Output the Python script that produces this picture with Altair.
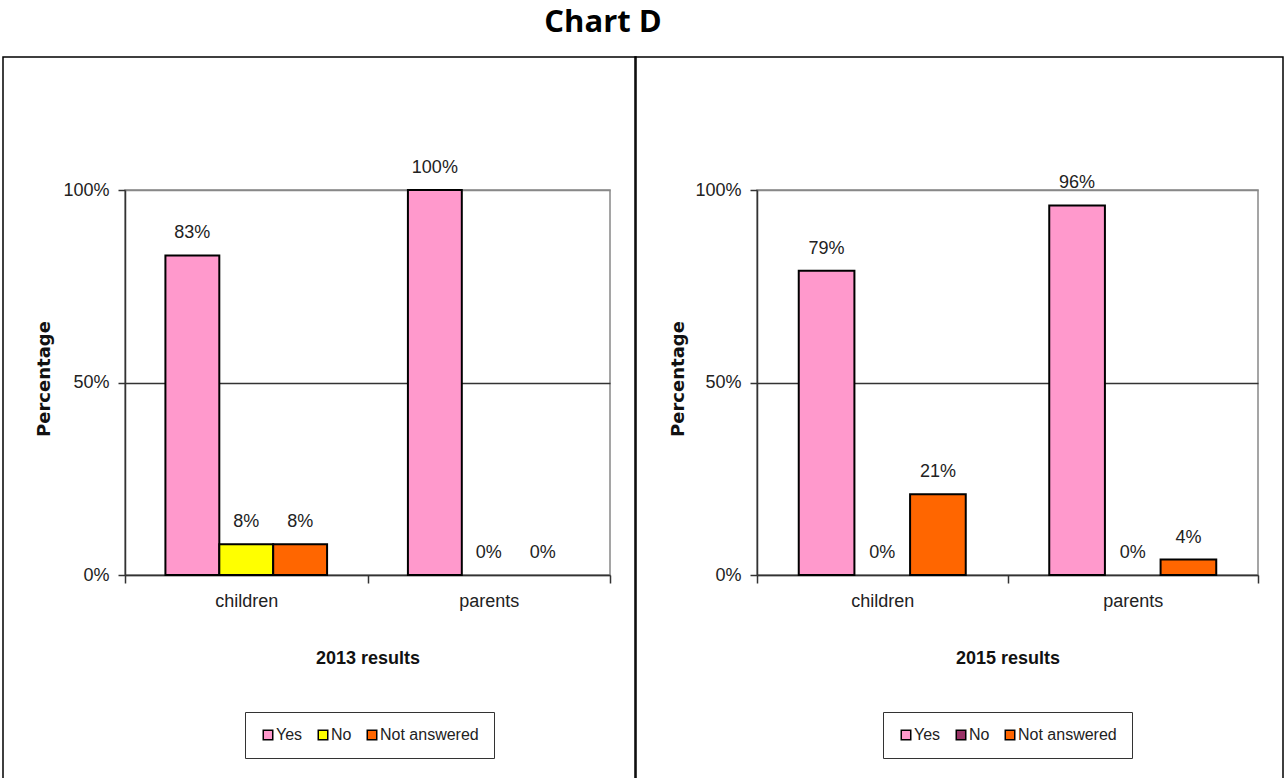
import altair as alt
import pandas as pd

groups = ["children", "parents"]
answers = ["Yes", "No", "Not answered"]
values_2013 = [[0.83, 0.08, 0.08], [1.00, 0.00, 0.00]]
values_2015 = [[0.79, 0.00, 0.21], [0.96, 0.00, 0.04]]
colors_2013 = ["#FF99CC", "#FFFF00", "#FF6600"]
colors_2015 = ["#FF99CC", "#993366", "#FF6600"]
y_ticks = [0, 0.5, 1.0]

FONT = "Liberation Sans, Arial, sans-serif"


def frame(values):
    rows = []
    for g, vals in zip(groups, values):
        for a, v in zip(answers, vals):
            rows.append({"group": g, "answer": a, "value": v})
    return pd.DataFrame(rows)


def panel(values, colors, xtitle, plot_w, plot_h, box_l, box_r, box_t, box_b,
          ytitle_x, legend_x, legend_y):
    df = frame(values)
    x = alt.X(
        "group:N", sort=groups,
        scale=alt.Scale(paddingInner=0, paddingOuter=0),
        axis=alt.Axis(
            title=xtitle, labelAngle=0, tickBand="extent", tickSize=8,
            tickColor="#333", tickWidth=1.5, domainColor="#333", domainWidth=1.5,
            labelFont=FONT, labelFontSize=18, labelColor="#222", labelPadding=9,
            titleFont=FONT, titleFontSize=18, titleFontWeight="bold",
            titleColor="#111", titleY=83, titleBaseline="middle",
        ),
    )
    xo = alt.XOffset("answer:N", sort=answers,
                     scale=alt.Scale(domain=answers, paddingOuter=0.75, paddingInner=0))
    y = alt.Y(
        "value:Q",
        scale=alt.Scale(domain=[0, 1], nice=False),
        axis=alt.Axis(
            values=y_ticks, format="%", title="Percentage",
            titleFont="DejaVu Sans", titleFontSize=18, titleFontWeight="bold",
            titleColor="#111", titleX=ytitle_x, titleY=plot_h / 2 - 4,
            titleBaseline="middle", titleAlign="center",
            labelFont=FONT, labelFontSize=18, labelColor="#222", labelPadding=9,
            tickSize=7, tickColor="#333", tickWidth=1.5,
            domainColor="#333", domainWidth=1.5,
            grid=True, gridWidth=1.5,
            gridColor={"condition": {"test": "datum.value === 0.5", "value": "#333"},
                       "value": "#888"},
        ),
    )
    bars = alt.Chart(df).mark_bar(stroke="black", opacity=1).encode(
        x=x, xOffset=xo, y=y,
        strokeWidth=alt.condition("datum.value > 0", alt.value(2), alt.value(0)),
        color=alt.Color(
            "answer:N", sort=answers,
            scale=alt.Scale(domain=answers, range=colors),
            legend=alt.Legend(
                orient="none", legendX=legend_x, legendY=legend_y,
                direction="horizontal", columns=3, title=None,
                symbolType="square", symbolSize=90, symbolStrokeColor="black",
                symbolStrokeWidth=1.5, symbolOpacity=1,
                labelFont=FONT, labelFontSize=16, labelColor="#222",
                labelOffset=0, columnPadding=12, padding=15,
                strokeColor="#333", fillColor="white",
            ),
        ),
    )
    labels = alt.Chart(df).mark_text(
        baseline="bottom", dy=-13, font=FONT, fontSize=18, color="#222"
    ).encode(
        x=x, xOffset=xo, y=y,
        text=alt.Text("value:Q", format=".0%"),
    )
    box = alt.Chart(pd.DataFrame({"k": [0]})).mark_rect(
        fill=None, stroke="black", strokeWidth=1.5
    ).encode(
        x=alt.value(box_l), x2=alt.value(box_r),
        y=alt.value(box_t), y2=alt.value(box_b),
    )
    return alt.layer(box, bars, labels).properties(width=plot_w, height=plot_h)


left = panel(values_2013, colors_2013, "2013 results", 485, 385,
             -122, 511, -133, 592, -81, 120, 522)
right = panel(values_2015, colors_2015, "2015 results", 501, 385,
              -122, 526, -133, 592, -79, 126, 522)

chart = alt.hconcat(left, right, spacing=-5).resolve_scale(
    color="independent", x="independent", y="independent", xOffset="independent"
).properties(
    title=alt.TitleParams(
        "Chart D", font="Open Sans", fontSize=31, fontWeight="bold",
        color="black", anchor="middle", dx=-40, offset=17,
    ),
    padding={"left": 1, "top": 6, "right": 0, "bottom": 0},
).configure_view(stroke="#888", strokeWidth=1.5)

chart.save("out.html", embed_options={"renderer": "svg", "actions": False})
